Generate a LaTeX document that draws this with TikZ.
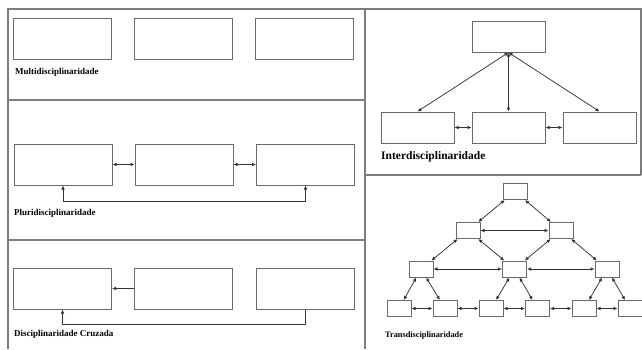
\documentclass[tikz,border=0pt]{standalone}
\usepackage{fontspec}
\setmainfont{Liberation Serif}
\usepackage{tikz}
\usetikzlibrary{arrows,arrows.meta,shapes}
\usetikzlibrary{positioning}
\usetikzlibrary{calc}
\definecolor{framegray}{RGB}{125,125,125}
\definecolor{boxgray}{RGB}{105,105,105}
\tikzset{
	>={Latex[length=4pt,width=3.6pt]},
	frame/.style={draw=framegray, line width=1.7pt},
	bigbox/.style={draw=boxgray, line width=1pt, minimum width=98pt, minimum height=41pt, inner sep=0pt},
	midbox/.style={draw=boxgray, line width=1pt, minimum width=73pt, minimum height=31pt, inner sep=0pt},
	smallbox/.style={draw=boxgray, line width=1pt, minimum width=24pt, minimum height=16pt, inner sep=0pt},
	link/.style={draw=black!80, line width=0.75pt, <->},
	flow/.style={draw=black!80, line width=0.75pt, ->},
	tag/.style={anchor=west, inner sep=0pt, font=\bfseries\fontsize{9}{10}\selectfont},
}
\begin{document}
\begin{tikzpicture}[x=1pt,y=-1pt]
	\useasboundingbox (0,0) rectangle (642,349);
	% frames
	\draw[frame] (8,349) -- (8,9) -- (641,9) -- (641,175);
	\draw[frame] (365,9) -- (365,349);
	\draw[frame] (8,100) -- (365,100);
	\draw[frame] (8,240) -- (365,240);
	\draw[frame] (365,175) -- (641,175);

	% multi
	\node[bigbox] (m1) at (62,38.5) {};
	\node[bigbox] (m2) at (183,38.5) {};
	\node[bigbox] (m3) at (304,38.5) {};
	\node[tag] (multi) at (15,72) {Multidisciplinaridade};

	% pluri
	\node[bigbox] (p1) at (63,164.5) {};
	\node[bigbox] (p2) at (184,164.5) {};
	\node[bigbox] (p3) at (305.5,164.5) {};
	\draw[link] (p1) -- (p2);
	\draw[link] (p2) -- (p3);
	\draw[link] (p1.south) -- ++(0,16) -| (p3.south);
	\node[tag] (pluri) at (14,213) {Pluridisciplinaridade};

	% cruzada
	\node[bigbox] (c1) at (62.5,288.5) {};
	\node[bigbox] (c2) at (183.5,288.5) {};
	\node[bigbox] (c3) at (305,288.5) {};
	\draw[flow] (c2) -- (c1);
	\draw[flow] (c3.south) -- ++(0,15) -| (c1.south);
	\node[tag] (cruz) at (14,334) {Disciplinaridade Cruzada};

	% inter
	\node[midbox] (i0) at (508.5,36.5) {};
	\node[midbox] (i1) at (417.5,127.5) {};
	\node[midbox] (i2) at (508.5,127.5) {};
	\node[midbox] (i3) at (599.5,127.5) {};
	\draw[link] (i0.south) -- (i1.north);
	\draw[link] (i0.south) -- (i2.north);
	\draw[link] (i0.south) -- (i3.north);
	\draw[link] (i1) -- (i2);
	\draw[link] (i2) -- (i3);
	\node[tag, font=\bfseries\fontsize{11.5}{13}\selectfont] (inter) at (381,157) {Interdisciplinaridade};

	% trans
	\node[smallbox] (t0) at (515,191.5) {};
	\node[smallbox] (t1) at (468,230.5) {};
	\node[smallbox] (t2) at (561,230.5) {};
	\node[smallbox] (t3) at (421,269) {};
	\node[smallbox] (t4) at (514.5,269) {};
	\node[smallbox] (t5) at (607,269) {};
	\foreach \i/\x in {1/399,2/445,3/491,4/537.5,5/584,6/630}
		\node[smallbox] (d\i) at (\x,308.5) {};
	\foreach \a/\b in {t0/t1,t0/t2,t1/t2,t1/t3,t1/t4,t2/t4,t2/t5,t3/t4,t4/t5,
		t3/d1,t3/d2,t4/d3,t4/d4,t5/d5,t5/d6,d1/d2,d2/d3,d3/d4,d4/d5,d5/d6}
		\draw[link] (\a) -- (\b);
	\node[tag, font=\bfseries\fontsize{8.3}{10}\selectfont] (trans) at (385,335) {Transdisciplinaridade};
\end{tikzpicture}
\end{document}
